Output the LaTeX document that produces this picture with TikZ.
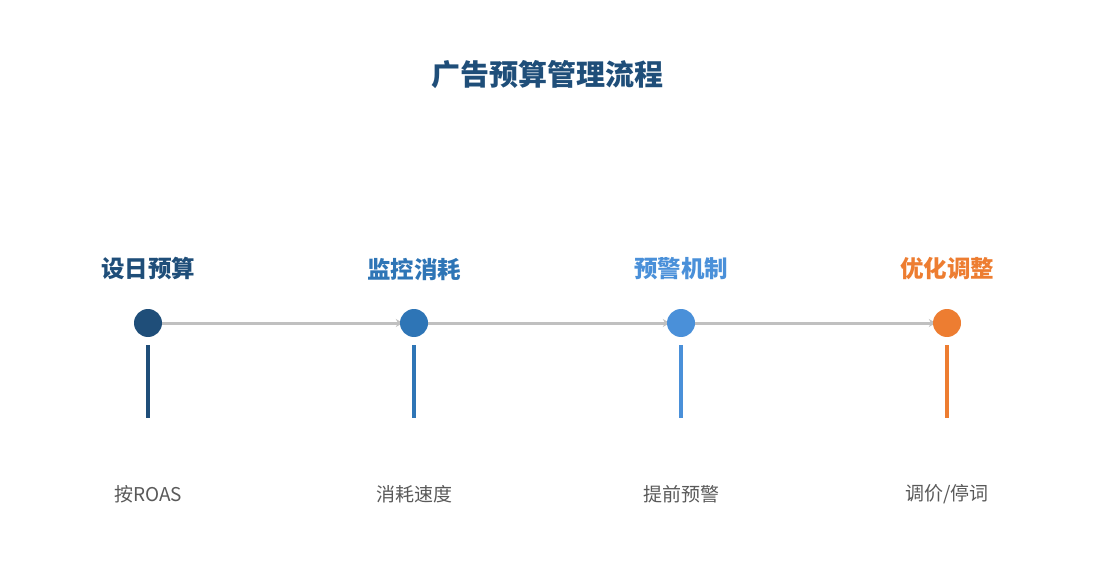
\documentclass[tikz,border=0pt]{standalone}
\usepackage{fontspec}
\setmainfont{Noto Sans CJK SC}
\usetikzlibrary{arrows.meta}
\usetikzlibrary{backgrounds}
\definecolor{stepone}{HTML}{1F4E79}
\definecolor{steptwo}{HTML}{2E75B6}
\definecolor{stepthree}{HTML}{4A90D9}
\definecolor{stepfour}{HTML}{ED7D31}
\definecolor{linkgray}{HTML}{C0C0C0}
\definecolor{notegray}{HTML}{595959}
\newcommand{\drawstep}[5]{
    \begin{scope}[shift={(#2,323)}]
        \node (#1) [circle, fill=#3, minimum size=28bp, inner sep=0pt] at (0,0) {};
        \node (#1title) at (0,-54) {\fontsize{23.5bp}{27bp}\selectfont\bfseries\color{#3}#4};
        \node (#1note) at (0,171) {\fontsize{19bp}{23bp}\selectfont\color{notegray}#5};
        \draw [draw=#3, line width=4bp] (0,22) -- (0,95);
    \end{scope}
}

\begin{document}
\begin{tikzpicture}[x=1bp, y=-1bp]
    \useasboundingbox (0,0) rectangle (1095,585);
    % title
    \node (title) at (547,75) {\fontsize{29bp}{33bp}\selectfont\bfseries\color{stepone}广告预算管理流程};
    % steps
    \drawstep{budget}{148}{stepone}{设日预算}{按ROAS};
    \drawstep{monitor}{414}{steptwo}{监控消耗}{消耗速度};
    \drawstep{warning}{681}{stepthree}{预警机制}{提前预警};
    \drawstep{optimize}{947}{stepfour}{优化调整}{调价/停词};
    % links
    \begin{scope}[on background layer]
        \draw [-{Stealth[length=7bp, width=8bp]}, draw=linkgray, line width=3bp, shorten >=-3bp] (budget) -- (monitor);
        \draw [-{Stealth[length=7bp, width=8bp]}, draw=linkgray, line width=3bp, shorten >=-3bp] (monitor) -- (warning);
        \draw [-{Stealth[length=7bp, width=8bp]}, draw=linkgray, line width=3bp, shorten >=-3bp] (warning) -- (optimize);
    \end{scope}
\end{tikzpicture}
\end{document}
